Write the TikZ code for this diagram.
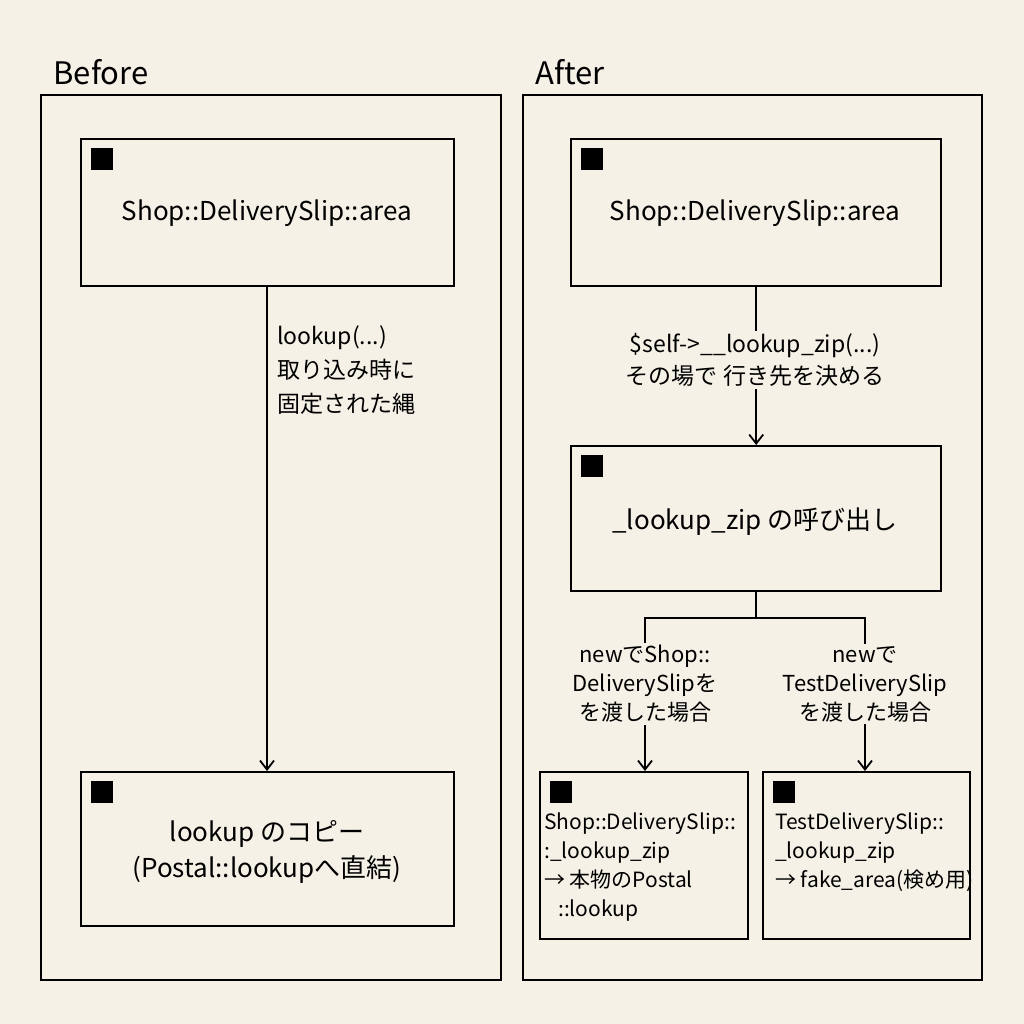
\documentclass[tikz,border=0pt]{standalone}
\usepackage{fontspec}
\setmainfont{Noto Sans CJK JP}
\usetikzlibrary{arrows.meta}
\definecolor{paper}{HTML}{F5F1E6}
\tikzset{
  box/.style={draw=black, line width=2.4pt, fill=paper, anchor=north west, inner sep=0pt},
  tag/.style={fill=black, minimum size=22pt, inner sep=0pt, anchor=north west},
  lbl/.style={fill=paper, align=center, inner sep=2pt, font=\fontsize{23}{32}\selectfont},
  arr/.style={line width=1.8pt, -{Straight Barb[length=9pt,width=14pt,line width=1.8pt]}},
}
\begin{document}
\begin{tikzpicture}[x=1pt,y=-1pt]
\fill[paper] (0,0) rectangle (1024,1024);
\useasboundingbox (0,0) rectangle (1024,1024);
% panels
\draw[line width=1.6pt] (41,95) rectangle (501,980);
\draw[line width=1.6pt] (523,95) rectangle (982,980);
\node[anchor=west, font=\fontsize{31}{36}\selectfont] (tBefore) at (50,72) {Before};
\node[anchor=west, font=\fontsize{31}{36}\selectfont] (tAfter) at (532,72) {After};
% Before
\node[box, minimum width=373pt, minimum height=147pt] (bArea) at (80,138) {};
\node[box, minimum width=373pt, minimum height=154pt] (bCopy) at (80,771) {};
\node[tag] at (91,148) {};
\node[tag] at (91,781) {};
\node[font=\fontsize{26}{30}\selectfont] at (267,213) {Shop::DeliverySlip::area};
\node[align=center, font=\fontsize{26}{36}\selectfont] at (267,852) {lookup のコピー\\(Postal::lookupへ直結)};
\draw[arr] (bArea.south -| 267,0) -- (bCopy.north -| 267,0);
\node[anchor=north west, align=left, inner sep=0pt, font=\fontsize{23}{34}\selectfont] at (277,325) {lookup(...)\\取り込み時に\\固定された縄};
% After
\node[box, minimum width=370pt, minimum height=147pt] (aArea) at (570,138) {};
\node[box, minimum width=370pt, minimum height=145pt] (aCall) at (570,445) {};
\node[box, minimum width=208pt, minimum height=167pt] (aShop) at (539,771) {};
\node[box, minimum width=207pt, minimum height=167pt] (aTest) at (762,771) {};
\foreach \p in {(581,148),(581,455),(550,781),(773,781)} \node[tag] at \p {};
\node[font=\fontsize{26}{30}\selectfont] at (755,213) {Shop::DeliverySlip::area};
\node[font=\fontsize{26}{30}\selectfont] at (755,522) {\_lookup\_zip の呼び出し};
\draw[arr] (aArea.south) -- (aCall.north);
\node[lbl] at (755,360) {\$self->\_\_lookup\_zip(...)\\その場で 行き先を決める};
\coordinate (fork) at (aCall.south |- 0,618);
\draw[line width=1.8pt] (aCall.south) -- (fork);
\draw[arr] (fork) -| (645,771);
\draw[arr] (fork) -| (865,771);
\node[lbl, font=\fontsize{22}{29}\selectfont] at (645,684) {newでShop::\\DeliverySlipを\\を渡した場合};
\node[lbl, font=\fontsize{22}{29}\selectfont] at (865,684) {newで\\TestDeliverySlip\\を渡した場合};
\node[anchor=north west, align=left, inner sep=0pt, font=\fontsize{21}{29}\selectfont] at (544,813)
  {Shop::DeliverySlip::\\:\_lookup\_zip\\ → 本物のPostal\\ \ \ \ ::lookup};
\node[anchor=north west, align=left, inner sep=0pt, font=\fontsize{21}{29}\selectfont] at (775,813)
  {TestDeliverySlip::\\\_lookup\_zip\\→ fake\_area(検め用)};
\end{tikzpicture}
\end{document}
